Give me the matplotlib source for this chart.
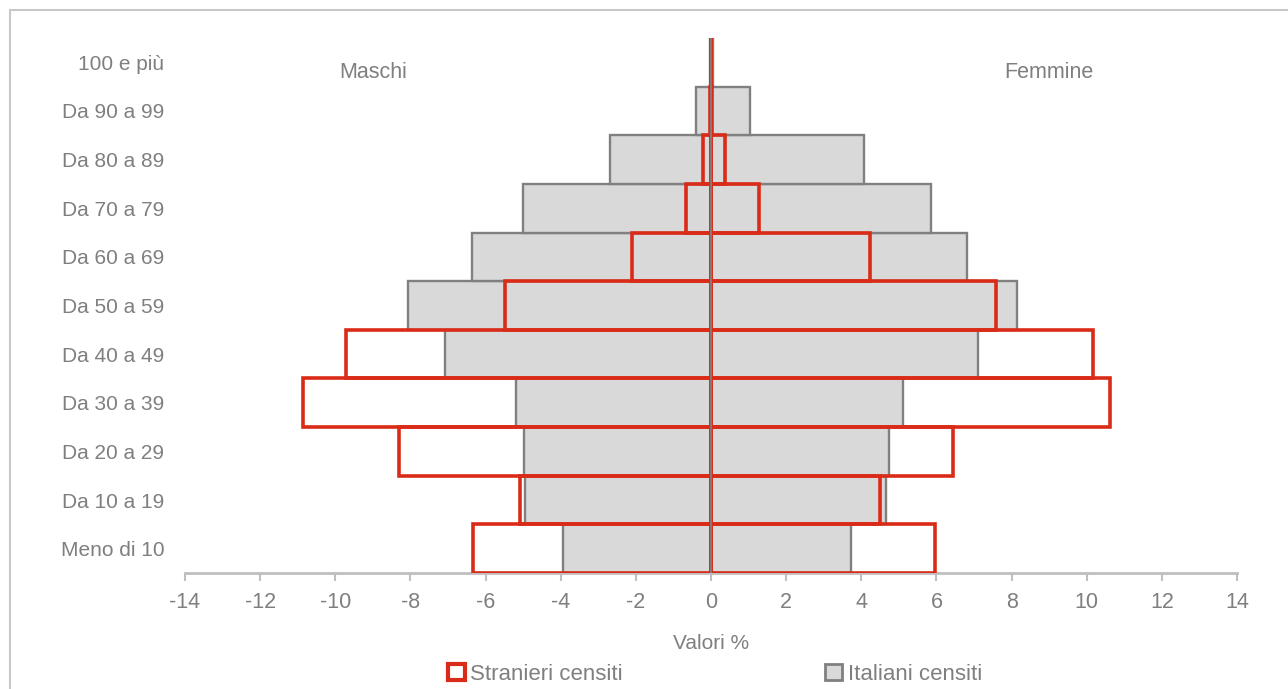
import matplotlib
matplotlib.use('Agg')
import matplotlib.pyplot as plt
from matplotlib import font_manager
from matplotlib.patches import Patch, Rectangle
import numpy as np

# Age classes, bottom to top
classi = ['Meno di 10', 'Da 10 a 19', 'Da 20 a 29', 'Da 30 a 39', 'Da 40 a 49',
          'Da 50 a 59', 'Da 60 a 69', 'Da 70 a 79', 'Da 80 a 89', 'Da 90 a 99',
          '100 e più']

# Italiani censiti (%), males negative
ita_maschi = [-3.94, -4.95, -4.98, -5.19, -7.08, -8.06, -6.35, -5.01, -2.70, -0.41, -0.03]
ita_femmine = [3.73, 4.66, 4.74, 5.11, 7.11, 8.14, 6.81, 5.86, 4.06, 1.05, 0.06]

# Stranieri censiti (%), males negative
str_maschi = [-6.33, -5.08, -8.30, -10.86, -9.72, -5.48, -2.11, -0.67, -0.20, -0.02, -0.01]
str_femmine = [5.96, 4.50, 6.44, 10.62, 10.17, 7.59, 4.23, 1.27, 0.37, 0.03, 0.01]

names = {f.name for f in font_manager.fontManager.ttflist}
if 'Liberation Sans Narrow' in names:
    plt.rcParams['font.family'] = ['Liberation Sans Narrow', 'DejaVu Sans']
else:
    plt.rcParams['font.family'] = ['Liberation Sans', 'DejaVu Sans']
plt.rcParams['axes.unicode_minus'] = False

grigio_testo = '#7f7f7f'
rosso = '#d92b17'

fig = plt.figure(figsize=(12.88, 6.89), dpi=100)
ax = fig.add_axes([185 / 1288, 116 / 689, 1052 / 1288, 535 / 689])

# light frame around the chart area
fig.patches.append(Rectangle((10 / 1288, -0.05), 1.2, (689 - 10 + 34) / 689,
                             transform=fig.transFigure, fill=False,
                             edgecolor='#c8c8c8', linewidth=1.5))

y = np.arange(len(classi))

ax.barh(y, ita_maschi, height=1.0, color='#d9d9d9', edgecolor='#808080', linewidth=1.7, zorder=2)
ax.barh(y, ita_femmine, height=1.0, color='#d9d9d9', edgecolor='#808080', linewidth=1.7, zorder=2)
ax.barh(y, str_maschi, height=1.0, facecolor='none', edgecolor=rosso, linewidth=2.6, zorder=3)
ax.barh(y, str_femmine, height=1.0, facecolor='none', edgecolor=rosso, linewidth=2.6, zorder=3)

# vertical axis line at zero, on top of the bars
ax.axvline(0, color='#808080', linewidth=1.3, zorder=4)

ax.set_xlim(-14, 14)
ax.set_ylim(-0.5, len(classi) - 0.5)
ax.set_xticks(np.arange(-14, 15, 2))
ax.set_yticks(y)
ax.set_yticklabels(classi)

for s in ['top', 'right', 'left']:
    ax.spines[s].set_visible(False)
ax.spines['bottom'].set_color('#bfbfbf')
ax.spines['bottom'].set_linewidth(2)
ax.spines['bottom'].set_zorder(1)

ax.tick_params(axis='x', colors='#bfbfbf', length=6, width=1.5, labelsize=15.5,
               labelcolor=grigio_testo, pad=8)
ax.tick_params(axis='y', length=0, labelsize=15, labelcolor=grigio_testo, pad=15)

ax.set_xlabel('Valori %', fontsize=15, color=grigio_testo, labelpad=15)

ax.text(-9.0, 9.8, 'Maschi', ha='center', va='center', fontsize=15.5, color=grigio_testo)
ax.text(9.0, 9.8, 'Femmine', ha='center', va='center', fontsize=15.5, color=grigio_testo)

handles = [Patch(facecolor='white', edgecolor=rosso, linewidth=3, label='Stranieri censiti'),
           Patch(facecolor='#d9d9d9', edgecolor='#808080', linewidth=2, label='Italiani censiti')]
fig.legend(handles=handles, loc='center', bbox_to_anchor=(715 / 1288, 1 - 674 / 689), ncol=2,
           frameon=False, fontsize=16, labelcolor=grigio_testo, handlelength=0.75,
           handleheight=0.75, handletextpad=0.25, columnspacing=9.1, borderpad=0)

plt.savefig('out.png', dpi=100)
plt.close()
